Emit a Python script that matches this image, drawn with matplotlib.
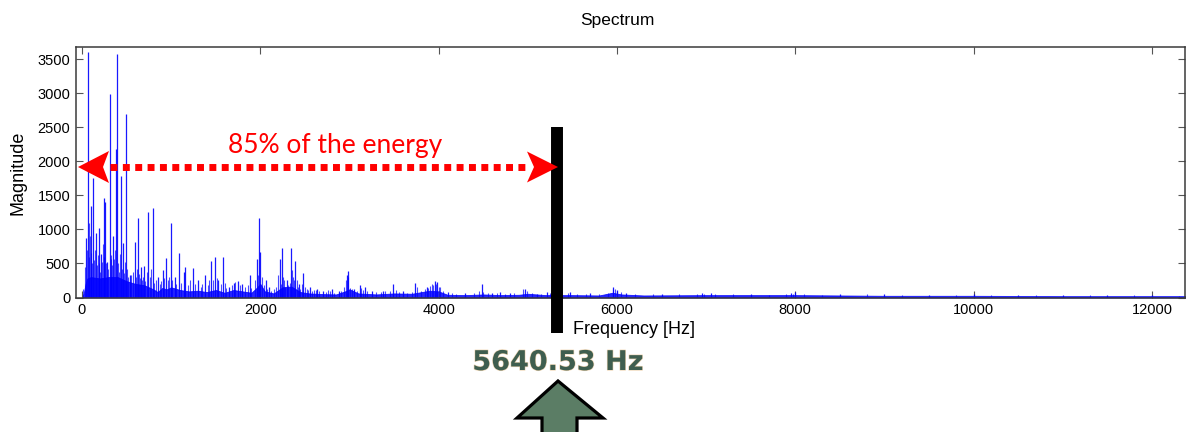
import matplotlib
matplotlib.use("Agg")
import matplotlib.pyplot as plt
import matplotlib.transforms as mtransforms
import matplotlib.patheffects as pe
from matplotlib.patches import Polygon

W, H = 1186, 432

# strong spectral lines: frequency [Hz] -> magnitude
peak_hz = [45, 67, 98, 127, 157, 187, 216, 243, 262, 277, 310, 350, 381, 396, 437,
           456, 493, 535, 591, 628, 660, 699, 744, 796, 850, 905, 942, 998, 1040,
           1088, 1140, 1160, 1249, 1300, 1380, 1447, 1494, 1530, 1580, 1650, 1700,
           1750, 1800, 1880, 1959, 1980, 2000, 2060, 2100, 2222, 2247, 2300, 2348,
           2393, 2430, 2484, 2560, 2635, 2700, 2800, 2880, 2968, 2987, 3050, 3118,
           3174, 3250, 3380, 3492, 3600, 3735, 3866, 3959, 3985, 4100, 4300, 4483,
           4600, 4688, 4800, 4969, 5100, 5212, 5473, 5700, 5959, 6000, 6100, 6500,
           6950, 7050, 7500, 7950, 8000, 8500, 9000, 9500, 10000, 10500, 11000,
           11500, 12000]
peak_mag = [875, 3598, 1340, 1757, 944, 1017, 636, 1463, 1400, 525, 2995, 900, 2178,
            3568, 1780, 802, 2690, 327, 817, 1160, 450, 464, 1257, 1316, 300, 400,
            577, 1095, 300, 660, 376, 455, 430, 250, 327, 530, 590, 250, 592, 150,
            220, 242, 200, 330, 572, 1172, 670, 250, 150, 572, 734, 250, 730, 533,
            200, 367, 150, 132, 100, 130, 90, 330, 389, 120, 186, 158, 100, 100,
            195, 100, 220, 156, 239, 232, 80, 70, 191, 60, 82, 60, 132, 50, 82, 82,
            60, 147, 110, 60, 50, 60, 65, 50, 60, 80, 50, 50, 40, 45, 40, 35, 30, 30]

# weaker lines filling the dense band
minor_hz = [15, 30, 55, 75, 80, 92, 105, 115, 135, 145, 165, 175, 195, 205, 225, 232,
            250, 270, 295, 320, 330, 340, 360, 370, 405, 415, 425, 445, 470, 480, 505,
            520, 550, 575, 605, 615, 640, 650, 675, 690, 710, 725, 760, 775, 810, 830,
            870, 890, 920, 960, 975, 1010, 1060, 1110, 1190, 1210, 1270, 1330, 1350,
            1410, 1430, 1470, 1510, 1560, 1600, 1620, 1680, 1720, 1770, 1830, 1860,
            1900, 1940, 1970, 2020, 2040, 2080, 2120, 2150, 2180, 2200, 2230, 2260,
            2270, 2280, 2310, 2330, 2360, 2370, 2380, 2410, 2420, 2450, 2470, 2500,
            2520, 2530, 2580, 2600, 2620, 2660, 2740, 2760, 2780, 2830, 2900, 2940,
            2960, 2980, 3010, 3030, 3080, 3130, 3150, 3200, 3300, 3350, 3400, 3450,
            3520, 3560, 3650, 3700, 3760, 3800, 3850, 3880, 3900, 3930, 3940, 3970,
            4000, 4020, 4050, 4150, 4200, 4400, 4450, 4500, 4550, 4650, 4750, 4850,
            4950, 4990, 5050, 5150, 5250, 5350, 5450, 5550, 5650, 5800, 5900, 5960,
            5980, 6040, 6200, 6400, 6700, 6900, 6980, 7100, 7300, 7700, 7900, 7980,
            8100, 8300, 8800, 9200, 9800, 10200, 10700, 11300, 11800, 12300]
minor_mag = [130, 450, 700, 1100, 600, 900, 650, 500, 550, 700, 480, 620, 500, 380,
             520, 780, 600, 500, 420, 620, 560, 480, 560, 700, 500, 380, 640, 420, 360,
             520, 420, 300, 330, 380, 300, 420, 350, 280, 260, 300, 240, 380, 300, 420,
             220, 260, 200, 240, 280, 260, 300, 250, 200, 220, 180, 260, 200, 150, 200,
             180, 250, 260, 280, 200, 210, 140, 190, 230, 180, 150, 190, 140, 260, 330,
             300, 180, 120, 100, 120, 160, 330, 200, 300, 260, 160, 180, 220, 400, 300,
             250, 260, 150, 120, 200, 160, 120, 110, 100, 110, 110, 90, 80, 110, 100,
             70, 90, 150, 250, 300, 140, 130, 100, 140, 110, 90, 80, 80, 90, 90, 110,
             80, 70, 80, 150, 90, 120, 140, 170, 200, 180, 200, 150, 150, 90, 60, 55,
             60, 100, 80, 60, 60, 50, 60, 120, 100, 60, 50, 60, 50, 60, 50, 45, 45, 70,
             120, 120, 80, 50, 45, 45, 55, 55, 50, 45, 40, 50, 55, 50, 40, 45, 40, 40,
             35, 35, 30, 30, 28]

# dense noise floor envelope
floor_hz = [0, 20, 40, 60, 100, 200, 300, 400, 500, 600, 700, 800, 850, 900, 950, 1000,
            1100, 1200, 1300, 1400, 1500, 1600, 1700, 1800, 1900, 1950, 2000, 2050,
            2150, 2250, 2350, 2450, 2550, 2700, 2850, 2950, 3000, 3100, 3300, 3500,
            3700, 3900, 4000, 4100, 4300, 4500, 4700, 4900, 5000, 5200, 5500, 5800,
            5950, 6050, 6300, 7000, 8000, 9000, 10000, 11000, 12000, 12400]
floor_mag = [0, 60, 200, 280, 300, 280, 300, 300, 240, 200, 180, 120, 80, 140, 120, 150,
             110, 90, 100, 80, 110, 70, 110, 90, 70, 130, 200, 90, 60, 150, 160, 80, 60,
             50, 45, 90, 120, 60, 45, 60, 55, 100, 90, 40, 35, 45, 35, 40, 55, 35, 35,
             30, 70, 45, 30, 35, 35, 25, 25, 20, 20, 20]

x_ticks = [0, 2000, 4000, 6000, 8000, 10000, 12000]
y_ticks = [0, 500, 1000, 1500, 2000, 2500, 3000, 3500]

cutoff_label = "5640.53 Hz"
energy_label = "85% of the energy"
bar_hz, bar_top, bar_bottom = 5327, 2500, -521
span_hz, span_mag = (314, 5002), 1916

blue = "#0000ff"
sans = ["Liberation Sans", "DejaVu Sans"]

fig = plt.figure(figsize=(W / 100, H / 100), dpi=100)
pix = mtransforms.Affine2D().scale(1 / W, -1 / H).translate(0, 1) + fig.transFigure

ax = fig.add_axes([76 / W, (H - 297.5) / H, (1185 - 76) / W, (297.5 - 47) / H])
ax.fill_between(floor_hz, 0, floor_mag, color=blue, lw=0.6, alpha=0.85)
ax.vlines(minor_hz, 0, minor_mag, color=blue, lw=0.8, alpha=0.7)
ax.vlines(peak_hz, 0, peak_mag, color=blue, lw=0.9, alpha=0.9)

ax.set_xlim(-67, 12371)
ax.set_ylim(0, 3678)
ax.set_xticks(x_ticks)
ax.set_yticks(y_ticks)
ax.tick_params(direction="in", length=5, width=0.8, color="#555555",
               top=True, right=True, labelsize=10.5, pad=4)
for lab in ax.get_xticklabels() + ax.get_yticklabels():
    lab.set_family(sans)
for sp in ax.spines.values():
    sp.set_color("#3a3a3a")
    sp.set_linewidth(1.1)

fig.text(617, 20, "Spectrum", transform=pix, ha="center", va="center",
         fontsize=12.5, family=sans)
fig.text(18, 173, "Magnitude", transform=pix, ha="center", va="center",
         rotation=90, fontsize=13, family=sans)
fig.text(573, 329, "Frequency [Hz]", transform=pix, ha="left", va="center",
         fontsize=13, family=sans)

# 85% energy span
ax.plot(span_hz, [span_mag, span_mag], color="red", lw=5, dashes=(1.0, 0.78),
        dash_capstyle="butt", clip_on=False, zorder=5)
for head in ([(558, 167), (527, 151.5), (534, 167), (527, 182.5)],
             [(78, 167), (109, 151), (103, 167), (109, 183)]):
    fig.patches.append(Polygon(head, closed=True, transform=pix,
                               facecolor="red", edgecolor="none", zorder=6))
fig.text(228, 153, energy_label, transform=pix, ha="left", va="baseline",
         color="red", fontsize=19, family=["Lato", "DejaVu Sans"])

# cutoff bar
ax.plot([bar_hz, bar_hz], [bar_top, bar_bottom], color="black", lw=8.6,
        solid_capstyle="butt", clip_on=False, zorder=7)

fig.text(558, 370, cutoff_label, transform=pix, ha="center", va="baseline",
         color="#3f5e4f", fontsize=19.5, fontweight="bold", family="DejaVu Sans",
         path_effects=[pe.Stroke(linewidth=1.0, foreground="#e6c08e", alpha=0.6),
                       pe.Normal()])

arrow = [(558, 381), (603, 418), (577, 418), (577, 445), (542, 445), (542, 418), (517, 418)]
fig.patches.append(Polygon(arrow, closed=True, transform=pix, facecolor="#5b7d65",
                           edgecolor="black", lw=2.3, joinstyle="miter"))

fig.savefig("out.png", dpi=100)
